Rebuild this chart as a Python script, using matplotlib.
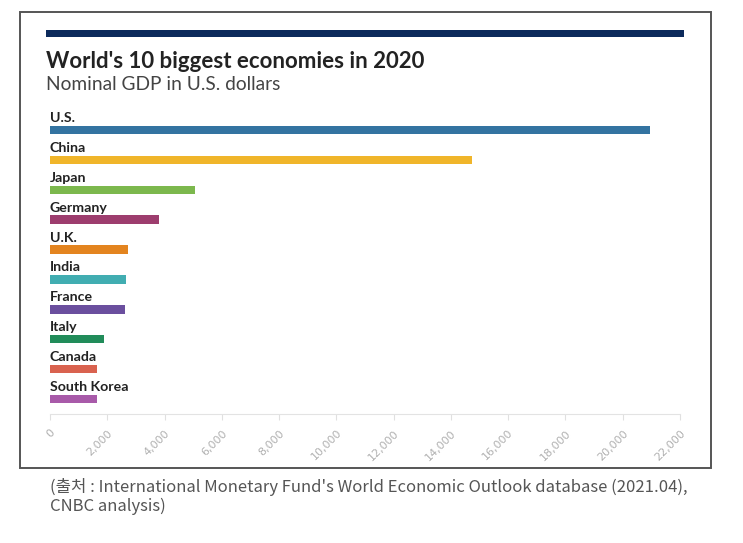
import matplotlib.pyplot as plt
from matplotlib.patches import Rectangle

countries = ['U.S.', 'China', 'Japan', 'Germany', 'U.K.', 'India',
             'France', 'Italy', 'Canada', 'South Korea']
gdp = [20937, 14723, 5049, 3803, 2711, 2660, 2603, 1886, 1643, 1631]
colors = ['#3373a1', '#f0b52a', '#7cb84d', '#9d3d6e', '#e3841f', '#41adb1',
          '#6b4f9e', '#218c5a', '#d9624f', '#a85aa9']
ticks = list(range(0, 22001, 2000))

W, H = 743, 543
fig = plt.figure(figsize=(W / 100, H / 100), dpi=100)
fig.patch.set_facecolor('white')

def px(x0, y0, x1, y1):
    # pixel box -> figure fraction (left, bottom, width, height)
    return x0 / W, 1 - y1 / H, (x1 - x0) / W, (y1 - y0) / H

# outer frame
l, b, w, h = px(20, 12, 711, 468)
fig.patches.append(Rectangle((l, b), w, h, transform=fig.transFigure,
                             fill=False, edgecolor='#555555', linewidth=1.4))
# navy header band
l, b, w, h = px(46, 30, 684, 37)
fig.patches.append(Rectangle((l, b), w, h, transform=fig.transFigure,
                             facecolor='#0c2a5c', edgecolor='none'))

fig.text(46 / W, 1 - 61 / H, "World's 10 biggest economies in 2020",
         fontsize=16, fontweight='bold', family='Lato', color='#222222',
         va='center', ha='left')
fig.text(46 / W, 1 - 85 / H, "Nominal GDP in U.S. dollars",
         fontsize=13.8, family='Lato', color='#444444', va='center', ha='left')

ax = fig.add_axes(px(50, 115, 680, 414))
y = list(range(len(countries)))
ax.barh(y, gdp, height=0.28, color=colors, edgecolor='none')
for i, name in enumerate(countries):
    ax.text(0, i - 0.2, name, fontsize=10.2, fontweight='bold', family='Lato',
            color='#222222', ha='left', va='bottom')

ax.set_xlim(0, 22000)
ax.set_ylim(9.5, -0.5)
ax.set_yticks([])
ax.set_xticks(ticks)
ax.set_xticklabels([f'{t:,}' for t in ticks], rotation=45, ha='right',
                   va='top', rotation_mode='anchor', fontsize=8,
                   color='#b0b0b0')
ax.tick_params(axis='x', length=4, color='#e0e0e0', pad=6)
for s in ['top', 'right', 'left']:
    ax.spines[s].set_visible(False)
ax.spines['bottom'].set_color('#e3e3e3')
ax.set_facecolor('none')

src_font = ['Noto Sans CJK KR', 'DejaVu Sans']
fig.text(50 / W, 1 - 487 / H,
         "(출처 : International Monetary Fund's World Economic Outlook database (2021.04),",
         fontsize=12, family=src_font, color='#555555', va='center', ha='left')
fig.text(50 / W, 1 - 506 / H, "CNBC analysis)",
         fontsize=12, family=src_font, color='#555555', va='center', ha='left')

plt.savefig('out.png', dpi=100)
plt.close()
